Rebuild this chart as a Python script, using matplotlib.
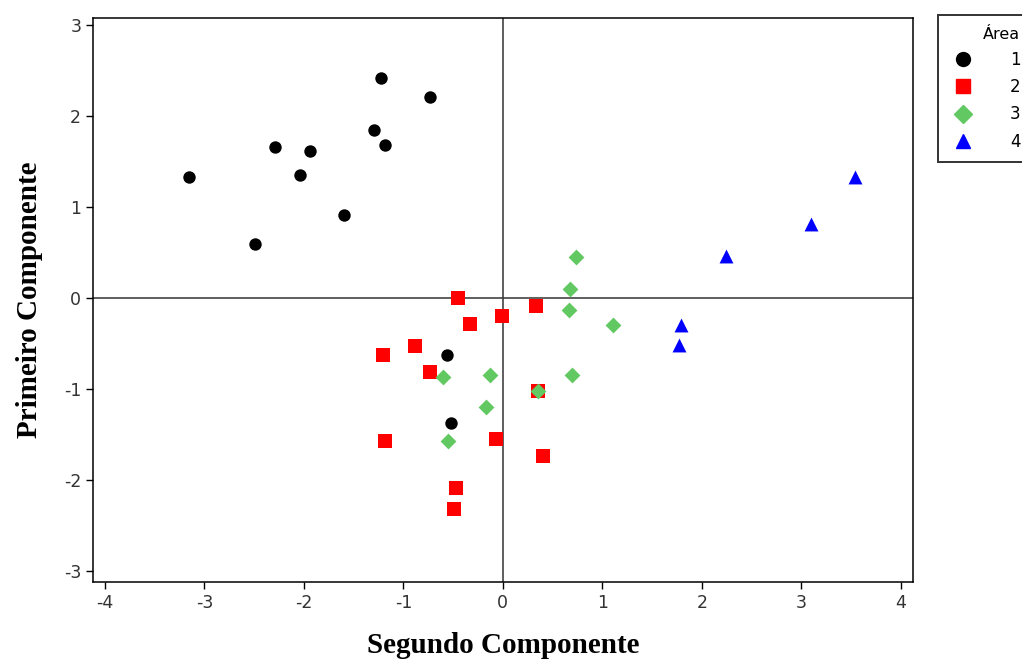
import matplotlib.pyplot as plt
from matplotlib.lines import Line2D

plt.rcParams["axes.unicode_minus"] = False

# Area 1
area1_x = [-3.15, -2.49, -2.29, -2.04, -1.94, -1.60, -1.30, -1.22, -1.18, -0.73, -0.56, -0.52]
area1_y = [1.33, 0.60, 1.66, 1.35, 1.62, 0.91, 1.85, 2.42, 1.68, 2.21, -0.63, -1.37]

# Area 2
area2_x = [-0.45, 0.33, -0.01, -0.33, -0.88, -1.20, -0.73, 0.35, -1.18, -0.07, 0.40, -0.47, -0.49]
area2_y = [0.00, -0.09, -0.20, -0.29, -0.53, -0.63, -0.81, -1.02, -1.57, -1.55, -1.74, -2.09, -2.32]

# Area 3
area3_x = [0.68, 0.74, 0.67, 1.11, -0.60, -0.13, 0.70, 0.35, -0.17, -0.55]
area3_y = [0.10, 0.45, -0.13, -0.30, -0.87, -0.84, -0.84, -1.02, -1.20, -1.57]

# Area 4
area4_x = [1.79, 1.77, 2.24, 3.10, 3.54]
area4_y = [-0.30, -0.52, 0.46, 0.81, 1.33]

areas = ["1", "2", "3", "4"]
colors = ["black", "#FF0000", "#62C962", "#0000FF"]
markers = ["o", "s", "D", "^"]
sizes = [80, 95, 65, 100]

fig = plt.figure(figsize=(10.22, 6.61), dpi=100)
ax = fig.add_axes([0.091, 0.1195, 0.802, 0.8535])

xs = [area1_x, area2_x, area3_x, area4_x]
ys = [area1_y, area2_y, area3_y, area4_y]
for i in range(4):
    ax.scatter(xs[i], ys[i], c=colors[i], marker=markers[i], s=sizes[i],
               linewidths=0, zorder=3)

ax.axhline(0, color="#333333", linewidth=1.1, zorder=1)
ax.axvline(0, color="#333333", linewidth=1.1, zorder=1)

ax.set_xlim(-4.12, 4.12)
ax.set_ylim(-3.12, 3.08)
ax.set_xticks(range(-4, 5))
ax.set_yticks(range(-3, 4))
ax.tick_params(direction="out", length=5, width=1, labelsize=12.5,
               colors="black", labelcolor="#333333")
for s in ax.spines.values():
    s.set_linewidth(1.1)

ax.set_xlabel("Segundo Componente", family="Liberation Serif",
              fontweight="bold", fontsize=21, va="center")
ax.set_ylabel("Primeiro Componente", family="Liberation Serif",
              fontweight="bold", fontsize=21, va="center")
ax.xaxis.set_label_coords(0.5, -0.112)
ax.yaxis.set_label_coords(-0.078, 0.5)

handles = [Line2D([], [], linestyle="none", marker=markers[i], color=colors[i],
                  markersize=10 if i != 2 else 9) for i in range(4)]
leg = fig.legend(handles, areas, title="Área", loc="upper left",
                 bbox_to_anchor=(0.918, 0.977), borderaxespad=0,
                 frameon=True, fancybox=False,
                 edgecolor="black", fontsize=12, title_fontsize=11.5,
                 handlelength=1.6, handletextpad=2.0, borderpad=0.7,
                 labelspacing=0.55, markerfirst=True)
leg.get_frame().set_linewidth(1.4)
leg._legend_box.align = "right"

fig.savefig("out.png", dpi=100)
